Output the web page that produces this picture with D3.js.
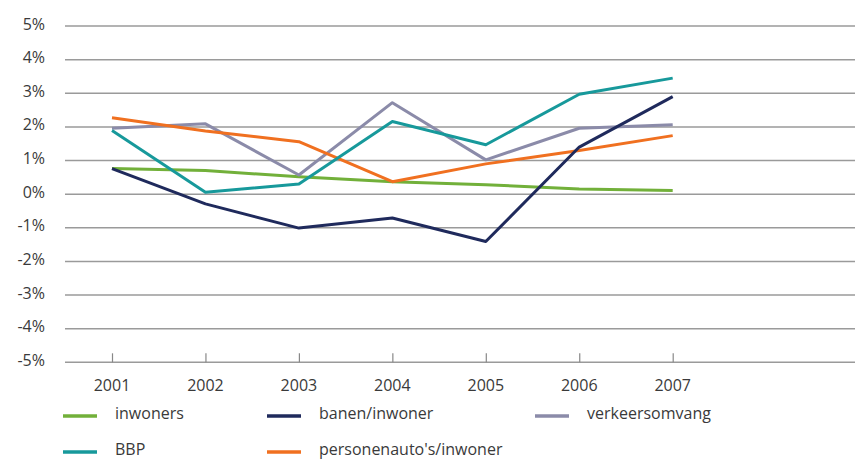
<!DOCTYPE html>
<html lang="nl">
<head>
    <meta charset="UTF-8">
    <title>Groei 2001-2007</title>
    <style>
        body { margin: 0; background: #fff; }
        svg { font-family: "Open Sans", "Noto Sans", sans-serif; }
        .axis text { font-size: 16px; fill: #3a3a3a; }
        .legend text { font-size: 16px; fill: #3a3a3a; }
    </style>
    <script src="https://d3js.org/d3.v7.min.js"></script>
</head>
<body>
<div id="chart"></div>
<script>
    // data
    var years = [2001, 2002, 2003, 2004, 2005, 2006, 2007];
    var yTicks = [5, 4, 3, 2, 1, 0, -1, -2, -3, -4, -5];

    var inwoners = [0.76, 0.70, 0.52, 0.37, 0.28, 0.15, 0.11];
    var banen = [0.76, -0.29, -1.01, -0.71, -1.41, 1.40, 2.90];
    var verkeer = [1.96, 2.09, 0.57, 2.72, 1.02, 1.96, 2.06];
    var bbp = [1.89, 0.06, 0.30, 2.16, 1.47, 2.97, 3.45];
    var autos = [2.27, 1.88, 1.56, 0.37, 0.90, 1.30, 1.74];

    var seriesNames = ["inwoners", "banen/inwoner", "verkeersomvang", "BBP", "personenauto's/inwoner"];
    var seriesColors = ["#72b03a", "#1f2a5c", "#8b8ba9", "#17999b", "#f07020"];
    var seriesValues = [inwoners, banen, verkeer, bbp, autos];
    // draw order: back to front
    var drawOrder = [0, 2, 4, 3, 1];

    var width = 855, height = 466;
    var left = 65, right = 855;

    var svg = d3.select("#chart").append("svg")
        .attr("width", width)
        .attr("height", height);

    var x = d3.scalePoint()
        .domain(years)
        .range([112, 672.7]);

    var y = d3.scaleLinear()
        .domain([-5, 5])
        .range([362.3, 26]);

    // gridlines
    svg.append("g")
        .selectAll("line")
        .data(yTicks)
        .enter()
        .append("line")
        .attr("x1", left)
        .attr("x2", right)
        .attr("y1", function(d){ return y(d); })
        .attr("y2", function(d){ return y(d); })
        .style("stroke", "#9a9a9a")
        .style("stroke-width", 1.5);

    // y labels
    svg.append("g")
        .attr("class", "axis")
        .selectAll("text")
        .data(yTicks)
        .enter()
        .append("text")
        .attr("x", 45)
        .attr("y", function(d){ return y(d) - 2; })
        .attr("dy", "0.35em")
        .style("text-anchor", "end")
        .text(function(d){ return d + "%"; });

    // x axis: small ticks pointing up from the bottom line
    var xAxis = svg.append("g")
        .attr("class", "axis")
        .attr("transform", "translate(0," + y(-5) + ")")
        .call(d3.axisTop(x).tickSize(9).tickFormat(""));
    xAxis.select(".domain").remove();
    xAxis.selectAll(".tick line").style("stroke", "#888").style("stroke-width", 1.2);

    svg.append("g")
        .attr("class", "axis")
        .selectAll("text")
        .data(years)
        .enter()
        .append("text")
        .attr("x", function(d){ return x(d); })
        .attr("y", 385)
        .attr("dy", "0.35em")
        .style("text-anchor", "middle")
        .text(function(d){ return d; });

    // lines
    var line = d3.line()
        .x(function(d, i){ return x(years[i]); })
        .y(function(d){ return y(d); });

    drawOrder.forEach(function(k){
        svg.append("path")
            .datum(seriesValues[k])
            .attr("d", line)
            .style("fill", "none")
            .style("stroke", seriesColors[k])
            .style("stroke-width", 3)
            .style("stroke-linejoin", "round");
    });

    // legend
    var legendPos = [[63, 414], [267, 414], [535, 414], [63, 450], [267, 450]];
    var legend = svg.append("g").attr("class", "legend");
    seriesNames.forEach(function(name, k){
        var p = legendPos[k];
        legend.append("line")
            .attr("x1", p[0]).attr("x2", p[0] + 34)
            .attr("y1", p[1] + 2).attr("y2", p[1] + 2)
            .style("stroke", seriesColors[k])
            .style("stroke-width", 3.5);
        legend.append("text")
            .attr("x", p[0] + 52)
            .attr("y", p[1] - 1)
            .attr("dy", "0.35em")
            .text(name);
    });
</script>
</body>
</html>
